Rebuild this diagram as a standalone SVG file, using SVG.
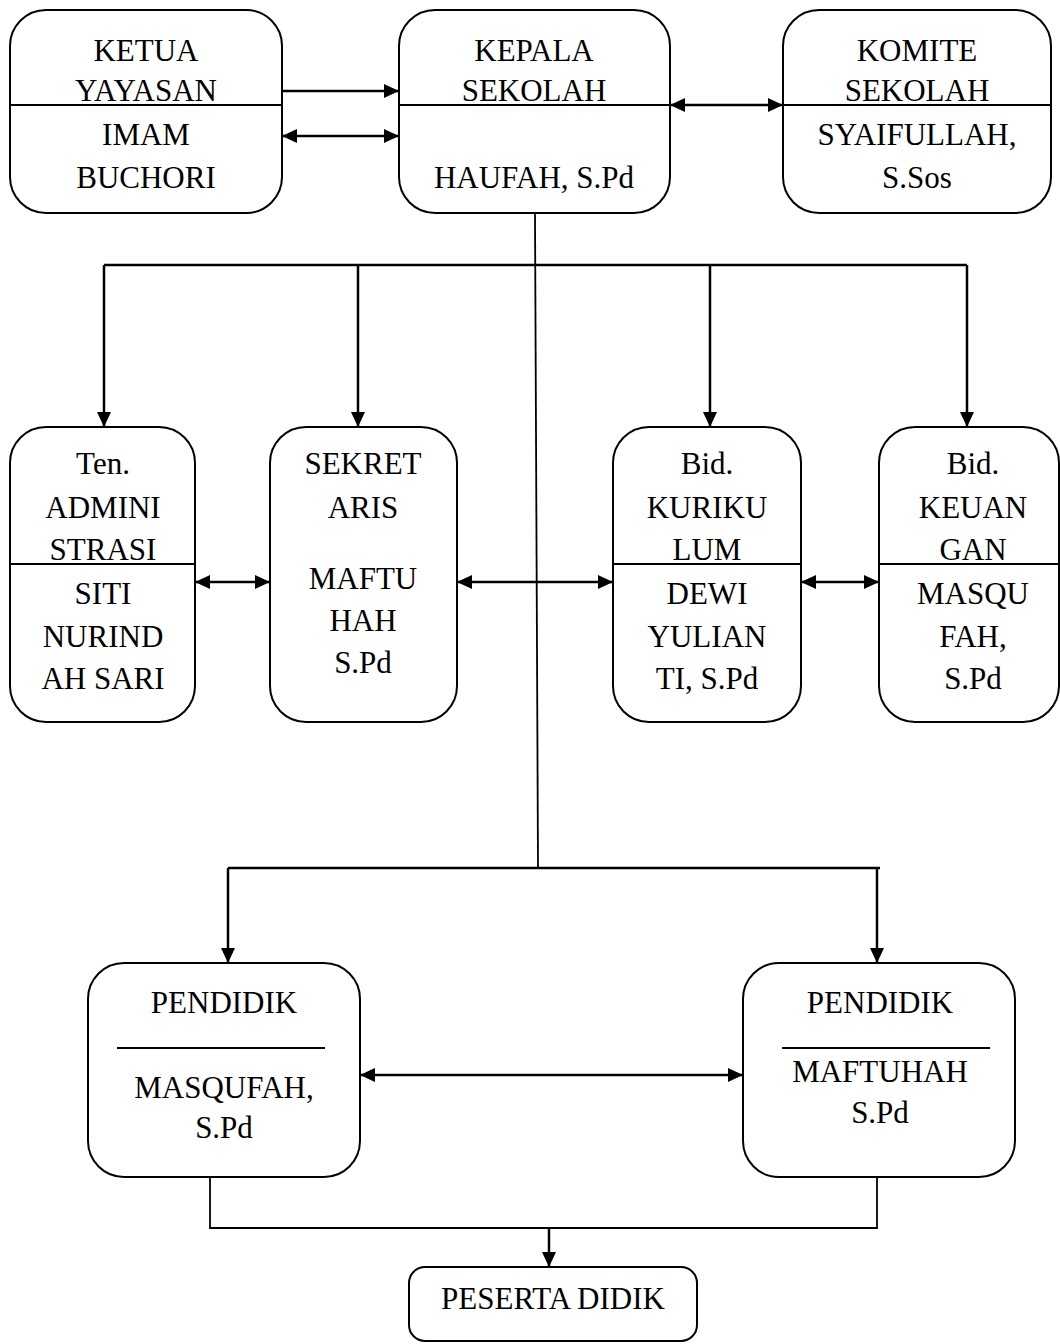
<svg xmlns="http://www.w3.org/2000/svg" width="1060" height="1344" viewBox="0 0 1060 1344">
<defs>
<marker id="ah" markerUnits="userSpaceOnUse" markerWidth="15" markerHeight="14" refX="15" refY="7" orient="auto-start-reverse" viewBox="0 0 15 14">
<path d="M0,0 L15,7 L0,14 z" fill="#000"/>
</marker>
<style>
.box{fill:#fff;stroke:#000;stroke-width:2}
.div{stroke:#000;stroke-width:2}
.t{font-family:"Liberation Serif","Times New Roman",serif;font-size:31px;fill:#000;text-anchor:middle}
.c{fill:none;stroke:#000;stroke-width:2.5}
.a{fill:none;stroke:#000;stroke-width:2.5;marker-end:url(#ah)}
.b{fill:none;stroke:#000;stroke-width:2.5;marker-start:url(#ah);marker-end:url(#ah)}
.l{fill:none;stroke:#000;stroke-width:1.8}
</style>
</defs>
<rect width="1060" height="1344" fill="#fff"/>

<g id="connectors">
<line class="a" x1="282" y1="91" x2="399" y2="91"/>
<line class="b" x1="282" y1="136" x2="399" y2="136"/>
<line class="b" x1="670" y1="105" x2="783" y2="105"/>
<line class="l" x1="535" y1="214" x2="538" y2="868"/>
<polyline class="c" points="104,265 967,265"/>
<line class="a" x1="104" y1="265" x2="104" y2="427"/>
<line class="a" x1="358" y1="265" x2="358" y2="427"/>
<line class="a" x1="710" y1="265" x2="710" y2="427"/>
<line class="a" x1="967" y1="265" x2="967" y2="427"/>
<line class="b" x1="195" y1="582" x2="270" y2="582"/>
<line class="b" x1="457" y1="582" x2="613" y2="582"/>
<line class="b" x1="801" y1="582" x2="879" y2="582"/>
<polyline class="c" points="228,868 880,868"/>
<line class="a" x1="228" y1="868" x2="228" y2="963"/>
<line class="a" x1="877" y1="868" x2="877" y2="963"/>
<line class="b" x1="360" y1="1075" x2="743" y2="1075"/>
<polyline class="l" points="210,1177 210,1228 877,1228 877,1177"/>
<line class="a" x1="549" y1="1228" x2="549" y2="1267"/>
</g>

<g id="ketua">
<rect class="box" x="10" y="10" width="272" height="203" rx="36"/>
<line class="div" x1="10" y1="105" x2="282" y2="105"/>
<text class="t" x="146" y="61">KETUA</text>
<text class="t" x="146" y="101">YAYASAN</text>
<text class="t" x="146" y="145">IMAM</text>
<text class="t" x="146" y="188">BUCHORI</text>
</g>

<g id="kepala">
<rect class="box" x="399" y="10" width="271" height="203" rx="36"/>
<line class="div" x1="399" y1="105" x2="670" y2="105"/>
<text class="t" x="534" y="61">KEPALA</text>
<text class="t" x="534" y="101">SEKOLAH</text>
<text class="t" x="534" y="188">HAUFAH, S.Pd</text>
</g>

<g id="komite">
<rect class="box" x="783" y="10" width="268" height="203" rx="36"/>
<line class="div" x1="783" y1="105" x2="1051" y2="105"/>
<text class="t" x="917" y="61">KOMITE</text>
<text class="t" x="917" y="101">SEKOLAH</text>
<text class="t" x="917" y="145">SYAIFULLAH,</text>
<text class="t" x="917" y="188">S.Sos</text>
</g>

<g id="tenaga">
<rect class="box" x="10" y="427" width="185" height="295" rx="36"/>
<line class="div" x1="10" y1="564" x2="195" y2="564"/>
<text class="t" x="103" y="474">Ten.</text>
<text class="t" x="103" y="518">ADMINI</text>
<text class="t" x="103" y="560">STRASI</text>
<text class="t" x="103" y="604">SITI</text>
<text class="t" x="103" y="647">NURIND</text>
<text class="t" x="103" y="689">AH SARI</text>
</g>

<g id="sekretaris">
<rect class="box" x="270" y="427" width="187" height="295" rx="36"/>
<text class="t" x="363" y="474">SEKRET</text>
<text class="t" x="363" y="518">ARIS</text>
<text class="t" x="363" y="589">MAFTU</text>
<text class="t" x="363" y="631">HAH</text>
<text class="t" x="363" y="673">S.Pd</text>
</g>

<g id="kurikulum">
<rect class="box" x="613" y="427" width="188" height="295" rx="36"/>
<line class="div" x1="613" y1="564" x2="801" y2="564"/>
<text class="t" x="707" y="474">Bid.</text>
<text class="t" x="707" y="518">KURIKU</text>
<text class="t" x="707" y="560">LUM</text>
<text class="t" x="707" y="604">DEWI</text>
<text class="t" x="707" y="647">YULIAN</text>
<text class="t" x="707" y="689">TI, S.Pd</text>
</g>

<g id="keuangan">
<rect class="box" x="879" y="427" width="180" height="295" rx="36"/>
<line class="div" x1="879" y1="564" x2="1059" y2="564"/>
<text class="t" x="973" y="474">Bid.</text>
<text class="t" x="973" y="518">KEUAN</text>
<text class="t" x="973" y="560">GAN</text>
<text class="t" x="973" y="604">MASQU</text>
<text class="t" x="973" y="647">FAH,</text>
<text class="t" x="973" y="689">S.Pd</text>
</g>

<g id="pendidik1">
<rect class="box" x="88" y="963" width="272" height="214" rx="36"/>
<line class="div" x1="117" y1="1048" x2="325" y2="1048"/>
<text class="t" x="224" y="1013">PENDIDIK</text>
<text class="t" x="224" y="1098">MASQUFAH,</text>
<text class="t" x="224" y="1138">S.Pd</text>
</g>

<g id="pendidik2">
<rect class="box" x="743" y="963" width="272" height="214" rx="36"/>
<line class="div" x1="782" y1="1048" x2="990" y2="1048"/>
<text class="t" x="880" y="1013">PENDIDIK</text>
<text class="t" x="880" y="1082">MAFTUHAH</text>
<text class="t" x="880" y="1123">S.Pd</text>
</g>

<g id="peserta">
<rect class="box" x="409" y="1267" width="288" height="74" rx="16"/>
<text class="t" x="553" y="1309">PESERTA DIDIK</text>
</g>
</svg>
